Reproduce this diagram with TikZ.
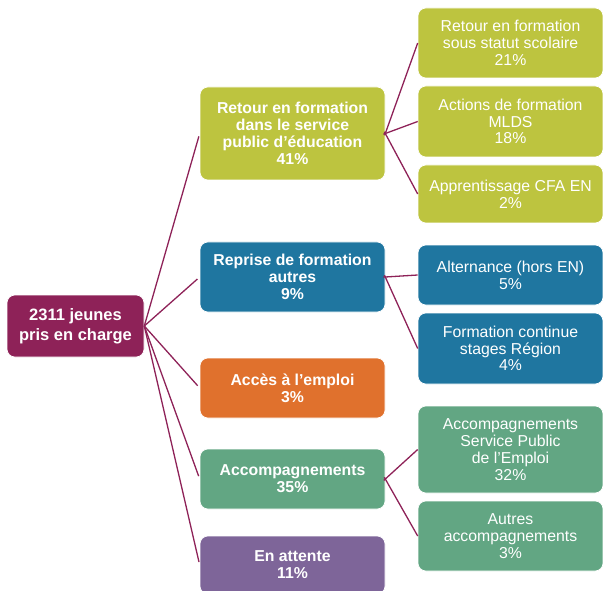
\documentclass[tikz,border=0pt]{standalone}
\usepackage{fontspec}
\setmainfont{Liberation Sans}
\usepackage{xcolor}
\usetikzlibrary{positioning}

\definecolor{plum}{HTML}{8E2258}
\definecolor{olive}{HTML}{BDC43F}
\definecolor{sea}{HTML}{1F76A0}
\definecolor{rust}{HTML}{E0712D}
\definecolor{sage}{HTML}{62A683}
\definecolor{mauve}{HTML}{7E6599}

\begin{document}
\begin{tikzpicture}[x=1pt, y=-1pt,
    box/.style={rounded corners=8pt, draw=white, line width=0.6pt, text=white, align=center, inner sep=0pt},
    rootbox/.style={box, fill=plum, minimum width=137pt, minimum height=62pt, font=\bfseries\fontsize{16.5}{20}\selectfont},
    topbox/.style={box, minimum width=185pt, font=\bfseries\fontsize{15.8}{16.8}\selectfont},
    subbox/.style={box, minimum width=185pt, font=\fontsize{15.8}{16.8}\selectfont},
    link/.style={draw=plum, line width=1.3pt}]
    \useasboundingbox (0,0) rectangle (603,591);

    % Root
    \node[rootbox] (root) at (75.5,326) {2311 jeunes\\pris en charge};

    % First level
    \node[topbox, fill=olive, minimum height=93pt] (retour) at (292.5,133.5) {Retour en formation\\dans le service\\public d’éducation\\41\%};
    \node[topbox, fill=sea, minimum height=70pt] (reprise) at (292.5,277) {Reprise de formation\\autres\\9\%};
    \node[topbox, fill=rust, minimum height=60pt] (emploi) at (292.5,388) {Accès à l’emploi\\3\%};
    \node[topbox, fill=sage, minimum height=60pt] (accomp) at (292.5,479) {Accompagnements\\35\%};
    \node[topbox, fill=mauve, minimum height=58pt] (attente) at (292.5,565) {En attente\\11\%};

    % Second level
    \node[subbox, fill=olive, minimum height=70pt] (scolaire) at (510.5,43) {Retour en formation\\sous statut scolaire\\21\%};
    \node[subbox, fill=olive, minimum height=71pt] (mlds) at (510.5,121.5) {Actions de formation\\MLDS\\18\%};
    \node[subbox, fill=olive, minimum height=58pt] (cfa) at (510.5,194) {Apprentissage CFA EN\\2\%};
    \node[subbox, fill=sea, minimum height=60pt] (alternance) at (510.5,275) {Alternance (hors EN)\\5\%};
    \node[subbox, fill=sea, minimum height=71pt] (continue) at (510.5,348.5) {Formation continue\\stages Région\\4\%};
    \node[subbox, fill=sage, minimum height=87pt] (spe) at (510.5,449.5) {Accompagnements\\Service Public\\de l’Emploi\\32\%};
    \node[subbox, fill=sage, minimum height=70pt] (autres) at (510.5,536) {Autres\\accompagnements\\3\%};

    % Links
    \path[link, shorten >=3pt]
        (root.east) edge (retour.west)
        (root.east) edge (reprise.west)
        (root.east) edge (emploi.west)
        (root.east) edge (accomp.west)
        (root.east) edge (attente.west);
    \path[link, shorten <=-2pt]
        (retour.east) edge (scolaire.west)
        (retour.east) edge (mlds.west)
        (retour.east) edge (cfa.west)
        (reprise.east) edge (alternance.west)
        (reprise.east) edge (continue.west)
        (accomp.east) edge (spe.west)
        (accomp.east) edge (autres.west);
\end{tikzpicture}
\end{document}
